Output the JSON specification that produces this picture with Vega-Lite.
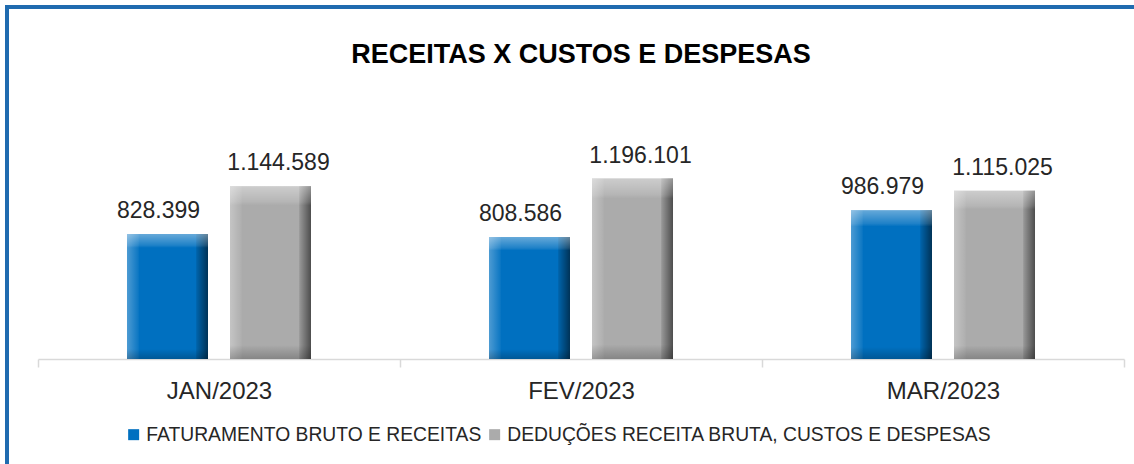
{
  "$schema": "https://vega.github.io/schema/vega-lite/v6.json",
  "width": 1134,
  "height": 464,
  "autosize": {"type": "none"},
  "padding": {"left": 7, "top": 7, "right": 0, "bottom": 0},
  "background": "white",
  "config": {
    "view": {"stroke": "#1F6BAF", "strokeWidth": 4},
    "locale": {"number": {"decimal": ",", "thousands": ".", "grouping": [3], "currency": ["R$", ""]}}
  },
  "title": {
    "text": "RECEITAS X CUSTOS E DESPESAS",
    "font": "Liberation Sans",
    "fontSize": 27,
    "fontWeight": "bold",
    "color": "#000000",
    "anchor": "middle",
    "dx": 7,
    "offset": -83,
    "baseline": "alphabetic"
  },
  "data": {
    "values": [
      {"mes": "JAN/2023", "serie": "FATURAMENTO BRUTO E RECEITAS", "valor": 828399},
      {"mes": "JAN/2023", "serie": "DEDUÇÕES RECEITA BRUTA, CUSTOS E DESPESAS", "valor": 1144589},
      {"mes": "FEV/2023", "serie": "FATURAMENTO BRUTO E RECEITAS", "valor": 808586},
      {"mes": "FEV/2023", "serie": "DEDUÇÕES RECEITA BRUTA, CUSTOS E DESPESAS", "valor": 1196101},
      {"mes": "MAR/2023", "serie": "FATURAMENTO BRUTO E RECEITAS", "valor": 986979},
      {"mes": "MAR/2023", "serie": "DEDUÇÕES RECEITA BRUTA, CUSTOS E DESPESAS", "valor": 1115025}
    ]
  },
  "encoding": {
    "x": {
      "field": "mes",
      "type": "nominal",
      "sort": ["JAN/2023", "FEV/2023", "MAR/2023"],
      "scale": {"range": [31, 1117], "paddingInner": 0, "paddingOuter": 0},
      "axis": {
        "title": null,
        "orient": "bottom",
        "offset": -112,
        "labelAngle": 0,
        "grid": false,
        "domainColor": "#D9D9D9",
        "domainWidth": 1.5,
        "tickColor": "#D9D9D9",
        "tickWidth": 1.5,
        "tickSize": 8,
        "tickBand": "extent",
        "labelFont": "Liberation Sans",
        "labelFontSize": 24,
        "labelColor": "#262626",
        "labelBaseline": "alphabetic",
        "labelPadding": 31
      }
    },
    "xOffset": {
      "field": "serie",
      "type": "nominal",
      "sort": ["FATURAMENTO BRUTO E RECEITAS", "DEDUÇÕES RECEITA BRUTA, CUSTOS E DESPESAS"],
      "scale": {"paddingInner": 0.2136, "paddingOuter": 0.864}
    },
    "y": {
      "field": "valor",
      "type": "quantitative",
      "scale": {"domain": [0, 2333760], "range": [352, 0]},
      "axis": null
    }
  },
  "layer": [
    {
      "mark": {"type": "bar"},
      "encoding": {
        "color": {
          "field": "serie",
          "type": "nominal",
          "sort": ["FATURAMENTO BRUTO E RECEITAS", "DEDUÇÕES RECEITA BRUTA, CUSTOS E DESPESAS"],
          "scale": {"range": ["#0070C0", "#ABABAB"]},
          "legend": {
            "orient": "none",
            "legendX": 117,
            "legendY": 418,
            "direction": "horizontal",
            "title": null,
            "symbolType": "square",
            "symbolSize": 121,
            "symbolStrokeWidth": 0,
            "labelFont": "Liberation Sans",
            "labelFontSize": 19.3,
            "labelColor": "#262626",
            "labelOffset": 3,
            "columnPadding": 3,
            "labelLimit": 600
          }
        }
      }
    },
    {
      "mark": {
        "type": "bar",
        "fill": {
          "gradient": "linear", "x1": 0, "y1": 0, "x2": 1, "y2": 0,
          "stops": [
            {"offset": 0, "color": "rgba(255,255,255,0.30)"},
            {"offset": 0.14, "color": "rgba(255,255,255,0.05)"},
            {"offset": 0.15, "color": "rgba(255,255,255,0)"},
            {"offset": 0.85, "color": "rgba(0,0,0,0)"},
            {"offset": 0.86, "color": "rgba(0,0,0,0.12)"},
            {"offset": 1, "color": "rgba(0,0,0,0.55)"}
          ]
        }
      },
      "encoding": {}
    },
    {
      "mark": {
        "type": "bar",
        "fill": {
          "gradient": "linear", "x1": 0, "y1": 0, "x2": 0, "y2": 1,
          "stops": [
            {"offset": 0, "color": "rgba(255,255,255,0.40)"},
            {"offset": 0.09, "color": "rgba(255,255,255,0.12)"},
            {"offset": 0.11, "color": "rgba(255,255,255,0)"},
            {"offset": 0.92, "color": "rgba(0,0,0,0)"},
            {"offset": 0.94, "color": "rgba(0,0,0,0.06)"},
            {"offset": 1, "color": "rgba(0,0,0,0.22)"}
          ]
        }
      },
      "encoding": {}
    },
    {
      "transform": [{"filter": "datum.serie === 'FATURAMENTO BRUTO E RECEITAS'"}],
      "mark": {"type": "text", "font": "Liberation Sans", "fontSize": 23, "color": "#262626", "baseline": "alphabetic", "dy": -16, "dx": -9},
      "encoding": {"text": {"field": "valor", "type": "quantitative", "format": ",.0f"}}
    },
    {
      "transform": [{"filter": "datum.serie !== 'FATURAMENTO BRUTO E RECEITAS'"}],
      "mark": {"type": "text", "font": "Liberation Sans", "fontSize": 23, "color": "#262626", "baseline": "alphabetic", "dy": -16, "dx": 8},
      "encoding": {"text": {"field": "valor", "type": "quantitative", "format": ",.0f"}}
    }
  ]
}
